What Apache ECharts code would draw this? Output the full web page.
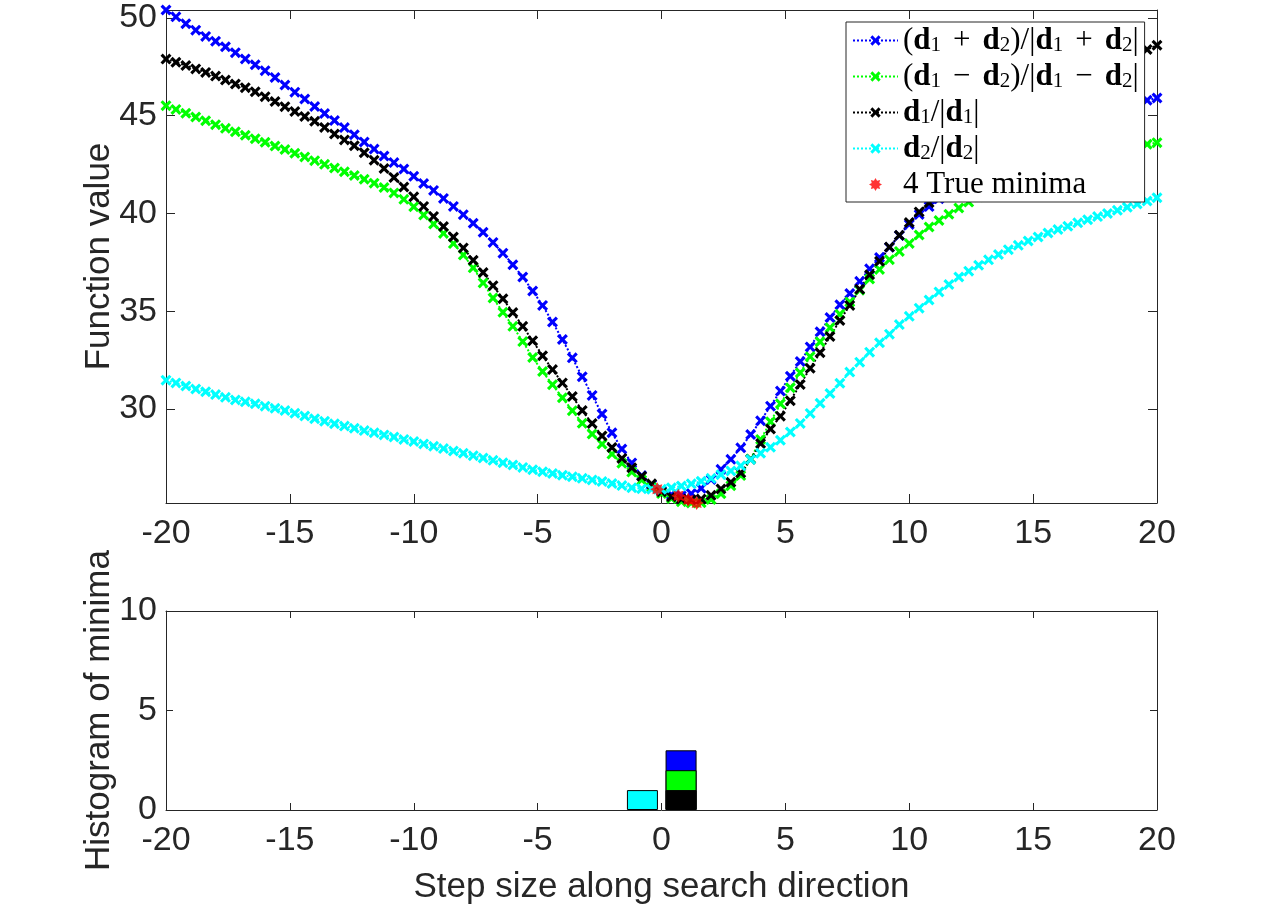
<!DOCTYPE html>
<html lang="en">
<head>
<meta charset="UTF-8">
<title>Line search minima</title>
<script src="https://cdn.jsdelivr.net/npm/echarts@6/dist/echarts.min.js"></script>
<style>
    html, body { margin: 0; padding: 0; background: #ffffff; }
    #main { width: 1280px; height: 907px; }
</style>
</head>
<body>
<div id="main"></div>
<script>
    // step sizes along the search direction
    var steps = [-20,-19.6,-19.2,-18.8,-18.4,-18,-17.6,-17.2,-16.8,-16.4,
        -16,-15.6,-15.2,-14.8,-14.4,-14,-13.6,-13.2,-12.8,-12.4,
        -12,-11.6,-11.2,-10.8,-10.4,-10,-9.6,-9.2,-8.8,-8.4,
        -8,-7.6,-7.2,-6.8,-6.4,-6,-5.6,-5.2,-4.8,-4.4,
        -4,-3.6,-3.2,-2.8,-2.4,-2,-1.6,-1.2,-0.8,-0.4,
        0,0.4,0.8,1.2,1.6,2,2.4,2.8,3.2,3.6,
        4,4.4,4.8,5.2,5.6,6,6.4,6.8,7.2,7.6,
        8,8.4,8.8,9.2,9.6,10,10.4,10.8,11.2,11.6,
        12,12.4,12.8,13.2,13.6,14,14.4,14.8,15.2,15.6,
        16,16.4,16.8,17.2,17.6,18,18.4,18.8,19.2,19.6,
        20];

    // (d1+d2)/|d1+d2|
    var fSum = [50.40,50.05,49.70,49.37,49.05,48.80,48.52,48.22,47.90,47.60,
        47.30,46.95,46.57,46.20,45.85,45.47,45.11,44.75,44.39,44.02,
        43.65,43.29,42.94,42.60,42.27,41.90,41.53,41.18,40.77,40.36,
        39.94,39.50,39.04,38.52,37.97,37.38,36.75,36.04,35.30,34.45,
        33.56,32.62,31.65,30.70,29.75,28.79,27.96,27.25,26.60,26.13,
        25.82,25.63,25.57,25.68,25.95,26.40,26.92,27.43,28.02,28.70,
        29.40,30.15,30.92,31.68,32.43,33.18,33.95,34.68,35.33,35.91,
        36.53,37.17,37.75,38.27,38.87,39.44,39.95,40.35,40.75,41.15,
        41.55,41.92,42.28,42.61,42.92,43.20,43.47,43.73,43.97,44.19,
        44.40,44.59,44.77,44.94,45.10,45.25,45.39,45.53,45.67,45.79,
        45.90];

    // (d1-d2)/|d1-d2|
    var fDiff = [45.51,45.32,45.12,44.93,44.74,44.54,44.35,44.18,44.00,43.82,
        43.64,43.45,43.27,43.08,42.89,42.70,42.51,42.32,42.13,41.94,
        41.75,41.55,41.33,41.05,40.72,40.34,39.92,39.46,38.98,38.46,
        37.88,37.22,36.45,35.68,34.95,34.23,33.45,32.64,31.92,31.25,
        30.58,29.92,29.28,28.73,28.21,27.70,27.23,26.78,26.37,26.00,
        25.68,25.43,25.27,25.20,25.21,25.38,25.67,26.08,26.60,27.45,
        28.45,29.35,30.27,31.09,31.86,32.68,33.44,34.16,34.85,35.48,
        36.08,36.65,37.14,37.64,38.06,38.47,38.90,39.31,39.64,39.96,
        40.28,40.58,40.86,41.13,41.38,41.61,41.82,42.02,42.20,42.37,
        42.53,42.68,42.82,42.95,43.07,43.18,43.28,43.37,43.46,43.54,
        43.62];

    // d1/|d1|
    var fD1 = [47.89,47.73,47.56,47.39,47.21,47.02,46.82,46.62,46.43,46.22,
        45.97,45.72,45.46,45.21,44.96,44.71,44.40,44.06,43.76,43.46,
        43.10,42.72,42.30,41.84,41.35,40.85,40.36,39.85,39.33,38.80,
        38.24,37.61,36.98,36.31,35.64,34.94,34.23,33.49,32.73,32.02,
        31.34,30.64,29.93,29.26,28.63,28.04,27.48,27.00,26.57,26.18,
        25.78,25.52,25.40,25.36,25.40,25.59,25.92,26.26,26.74,27.44,
        28.24,28.98,29.64,30.43,31.26,32.09,32.88,33.71,34.53,35.30,
        36.13,36.87,37.56,38.28,38.89,39.54,40.08,40.55,41.12,41.66,
        42.20,42.69,43.16,43.62,44.07,44.50,44.86,45.22,45.56,45.88,
        46.20,46.48,46.76,47.02,47.27,47.50,47.72,47.94,48.16,48.38,
        48.60];

    // d2/|d2|
    var fD2 = [31.48,31.34,31.18,31.03,30.89,30.74,30.60,30.47,30.37,30.27,
        30.15,30.04,29.93,29.79,29.65,29.51,29.38,29.25,29.13,29.02,
        28.90,28.79,28.68,28.57,28.45,28.34,28.22,28.10,27.98,27.86,
        27.74,27.62,27.50,27.38,27.26,27.14,27.02,26.90,26.80,26.71,
        26.62,26.54,26.46,26.38,26.30,26.20,26.09,25.98,25.93,25.90,
        25.90,25.98,26.07,26.18,26.31,26.46,26.65,26.84,27.10,27.42,
        27.74,28.05,28.41,28.83,29.27,29.78,30.30,30.80,31.32,31.89,
        32.40,32.91,33.39,33.83,34.32,34.74,35.16,35.58,35.99,36.37,
        36.75,37.05,37.35,37.63,37.90,38.15,38.37,38.59,38.80,39.00,
        39.18,39.35,39.52,39.68,39.84,40.00,40.16,40.32,40.48,40.64,
        40.80];

    // the 4 true minima
    var minX = [-0.17, 0.68, 1.08, 1.42];
    var minY = [25.90, 25.57, 25.36, 25.20];

    // histogram of minima (bin centres and counts per direction)
    var binX = [-0.77, 0.79];
    var cntD1 = [0, 1];
    var cntDiff = [0, 1];
    var cntSum = [0, 1];
    var cntD2 = [1, 0];

    var n1 = '(d1+d2)/|d1+d2|';
    var n2 = '(d1-d2)/|d1-d2|';
    var n3 = 'd1/|d1|';
    var n4 = 'd2/|d2|';
    var n5 = '4 True minima';

    var legendLabels = {};
    legendLabels[n1] = '{p|(}{b|d}{s|1}{o|+}{b|d}{s|2}{p|)/|}{b|d}{s|1}{o|+}{b|d}{s|2}{p||}';
    legendLabels[n2] = '{p|(}{b|d}{s|1}{o|\u2212}{b|d}{s|2}{p|)/|}{b|d}{s|1}{o|\u2212}{b|d}{s|2}{p||}';
    legendLabels[n3] = '{b|d}{s|1}{p|/|}{b|d}{s|1}{p||}';
    legendLabels[n4] = '{b|d}{s|2}{p|/|}{b|d}{s|2}{p||}';
    legendLabels[n5] = '{p|4 True minima}';

    var txt = '#262626';
    var sans = '"Liberation Sans", Arial, sans-serif';
    var serif = '"Liberation Serif", "Times New Roman", serif';
    var xMark = 'path://M0,2 L2,0 L5,3 L8,0 L10,2 L7,5 L10,8 L8,10 L5,7 L2,10 L0,8 L3,5 Z';
    var starMark = 'path://M10,5 L7.9,6.2 L8.54,8.54 L6.2,7.9 L5,10 L3.8,7.9 L1.46,8.54 L2.1,6.2 L0,5 L2.1,3.8 L1.46,1.46 L3.8,2.1 L5,0 L6.2,2.1 L8.54,1.46 L7.9,3.8 Z';

    function pairs(ys) {
        var out = [];
        for (var i = 0; i < steps.length; i++) out.push([steps[i], ys[i]]);
        return out;
    }
    // stacked histogram: each layer drawn as the running total of the counts below it
    function bins(layers) {
        var out = [];
        for (var i = 0; i < binX.length; i++) {
            var top = 0;
            layers.forEach(function (c) { top += c[i]; });
            if (layers[layers.length - 1][i] > 0) out.push([binX[i], top]);
        }
        return out;
    }

    function xAx(grid, pos, labels, tick) {
        return {
            gridIndex: grid, type: 'value', position: pos,
            min: -20, max: 20, interval: 5,
            axisLine: { show: true, onZero: false, lineStyle: { color: txt, width: 1 } },
            axisTick: { show: true, inside: true, length: tick, lineStyle: { color: txt } },
            axisLabel: { show: labels, margin: 14, color: txt, fontSize: 34, fontFamily: sans },
            splitLine: { show: false }
        };
    }
    function yAx(grid, pos, min, max, labels, tick) {
        var a = {
            gridIndex: grid, type: 'value', position: pos,
            min: min, max: max,
            axisLine: { show: true, onZero: false, lineStyle: { color: txt, width: 1 } },
            axisTick: { show: true, inside: true, length: tick, lineStyle: { color: txt } },
            axisLabel: {
                show: labels, margin: 9, color: txt, fontSize: 34, fontFamily: sans,
                showMinLabel: grid === 1, showMaxLabel: grid === 1,
                formatter: function (v) { return Math.abs(v % 5) < 1e-6 ? String(v) : ''; }
            },
            splitLine: { show: false }
        };
        if (grid === 1) a.interval = 5;
        return a;
    }

    var chart = echarts.init(document.getElementById('main'), null, { renderer: 'canvas' });

    var xAxes = [xAx(0, 'bottom', true, 9), xAx(0, 'top', false, 9), xAx(1, 'bottom', true, 7), xAx(1, 'top', false, 7)];
    xAxes[2].name = 'Step size along search direction';
    xAxes[2].nameLocation = 'middle';
    xAxes[2].nameGap = 60;
    xAxes[2].nameTextStyle = { color: txt, fontSize: 35, fontFamily: sans };

    var yAxes = [yAx(0, 'left', 25.2, 50.4, true, 9), yAx(0, 'right', 25.2, 50.4, false, 9),
        yAx(1, 'left', 0, 10, true, 7), yAx(1, 'right', 0, 10, false, 7)];
    yAxes[0].name = 'Function value';
    yAxes[2].name = 'Histogram of minima';
    [0, 2].forEach(function (k) {
        yAxes[k].nameLocation = 'middle';
        yAxes[k].nameRotate = 90;
        yAxes[k].nameGap = 49;
        yAxes[k].nameMoveOverlap = false;
        yAxes[k].nameTextStyle = { color: txt, fontSize: 35, fontFamily: sans };
    });

    function lineSeries(name, ys, color) {
        return {
            name: name, type: 'line', xAxisIndex: 0, yAxisIndex: 0,
            data: pairs(ys), clip: false, z: 2,
            symbol: xMark, symbolSize: 11, showSymbol: true,
            color: color,
            itemStyle: { color: color },
            lineStyle: { color: color, width: 2, type: 'dotted' },
            emphasis: { disabled: true }
        };
    }
    function barSeries(name, layers, color) {
        return {
            name: name, type: 'bar', xAxisIndex: 2, yAxisIndex: 2,
            data: bins(layers), barWidth: 31, barGap: '-100%',
            itemStyle: { color: color, borderColor: '#000000', borderWidth: 1 },
            emphasis: { disabled: true }
        };
    }

    var option = {
        animation: false,
        backgroundColor: '#ffffff',
        grid: [
            { left: 166, right: 123, top: 10, height: 493 },
            { left: 166, right: 123, top: 611, height: 199 }
        ],
        xAxis: xAxes,
        yAxis: yAxes,
        legend: {
            data: [n1, n2, n3, n4, n5],
            orient: 'vertical', left: 846, top: 22,
            backgroundColor: '#ffffff', borderColor: txt, borderWidth: 1, borderRadius: 0,
            padding: [3, 6, 2, 6], itemGap: 5, itemWidth: 45, itemHeight: 13,
            selectedMode: false,
            formatter: function (name) { return legendLabels[name]; },
            textStyle: {
                rich: {
                    p: { fontFamily: serif, fontSize: 31, lineHeight: 30, color: '#000000' },
                    o: { fontFamily: serif, fontSize: 31, lineHeight: 30, color: '#000000', padding: [0, 12, 0, 12] },
                    b: { fontFamily: serif, fontSize: 31, lineHeight: 30, fontWeight: 'bold', color: '#000000' },
                    s: { fontFamily: serif, fontSize: 21, lineHeight: 21, verticalAlign: 'bottom', color: '#000000' }
                }
            }
        },
        series: [
            lineSeries(n1, fSum, '#0000ff'),
            lineSeries(n2, fDiff, '#00ff00'),
            lineSeries(n3, fD1, '#000000'),
            lineSeries(n4, fD2, '#00ffff'),
            {
                name: n5, type: 'scatter', xAxisIndex: 0, yAxisIndex: 0, z: 5,
                data: minX.map(function (x, i) { return [x, minY[i]]; }),
                clip: false, symbol: starMark, symbolSize: 14,
                itemStyle: { color: '#ff0000' },
                emphasis: { disabled: true }
            },
            barSeries('hist d1+d2', [cntD1, cntDiff, cntSum], '#0000ff'),
            barSeries('hist d1-d2', [cntD1, cntDiff], '#00ff00'),
            barSeries('hist d1', [cntD1], '#000000'),
            barSeries('hist d2', [cntD2], '#00ffff')
        ]
    };
    chart.setOption(option);
</script>
</body>
</html>
